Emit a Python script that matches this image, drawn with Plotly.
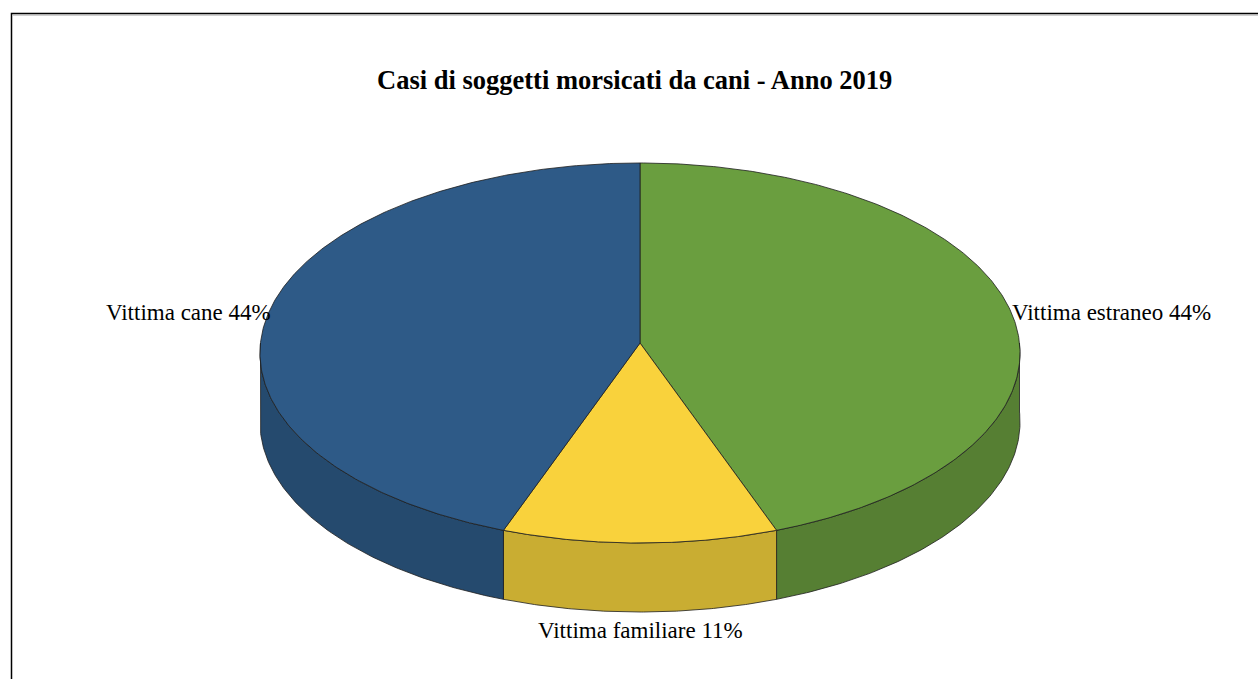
import numpy as np
import plotly.graph_objects as go

# ---- data ----
categories = ["Vittima estraneo", "Vittima familiare", "Vittima cane"]
values = [4, 1, 4]
top_colors = ["#6A9E3F", "#F9D23C", "#2E5A87"]
side_colors = ["#567F33", "#C9AD32", "#254A6E"]
title_text = "Casi di soggetti morsicati da cani - Anno 2019"

# ---- geometry of the 3D pie (pixel space) ----
W, H = 1258, 679
CX, CY, RX, RY, K, DEPTH = 640, 343, 379.5, 189.5, 0.0526, 69
FONT = "Times New Roman, Liberation Serif, serif"
EDGE = "#1e1e1e"


def proj(theta_deg, drop=0.0):
    t = np.radians(theta_deg)
    u = np.sin(t)
    v = -np.cos(t)
    s = 1.0 / (1.0 - K * v)
    return CX + RX * u * s, CY + RY * v * s + drop


total = float(sum(values))
angles = np.concatenate([[0.0], np.cumsum(values) / total * 360.0])

fig = go.Figure()

# side walls (front half only)
for i in range(len(values)):
    a0, a1 = max(angles[i], 90.0), min(angles[i + 1], 270.0)
    if a1 <= a0:
        continue
    th = np.linspace(a0, a1, 120)
    xt, yt = proj(th)
    xb, yb = proj(th, DEPTH)
    xs = np.concatenate([xt, xb[::-1], xt[:1]])
    ys = np.concatenate([yt, yb[::-1], yt[:1]])
    fig.add_trace(go.Scatter(x=xs, y=ys, fill="toself", fillcolor=side_colors[i],
                             mode="lines", line=dict(color=EDGE, width=0.8),
                             hoverinfo="skip", showlegend=False))

# top faces
for i in range(len(values)):
    th = np.linspace(angles[i], angles[i + 1], 300)
    xa, ya = proj(th)
    xs = np.concatenate([[CX], xa, [CX]])
    ys = np.concatenate([[CY], ya, [CY]])
    fig.add_trace(go.Scatter(x=xs, y=ys, fill="toself", fillcolor=top_colors[i],
                             mode="lines", line=dict(color=EDGE, width=0.8),
                             hoverinfo="skip", showlegend=False,
                             name=categories[i]))

# labels
LABEL_SIZE = 23
annotations = []
for i in range(len(values)):
    mid = (angles[i] + angles[i + 1]) / 2.0
    px, py = proj(mid)
    pct = round(values[i] / total * 100)
    txt = f"{categories[i]} {pct}%"
    if abs(np.sin(np.radians(mid))) < 0.5:
        annotations.append(dict(x=px, y=py + DEPTH + 4, text=txt, xanchor="center",
                                yanchor="top", showarrow=False,
                                font=dict(family=FONT, size=LABEL_SIZE, color="#000")))
    else:
        annotations.append(dict(x=px + (3 if px < CX else 0), y=py + 2, text=txt,
                                xanchor="right" if px < CX else "left",
                                yanchor="middle", showarrow=False,
                                font=dict(family=FONT, size=LABEL_SIZE, color="#000")))

annotations.append(dict(x=634, y=80, text=f"<b>{title_text}</b>", xanchor="center",
                        yanchor="middle", showarrow=False,
                        font=dict(family=FONT, size=26.5, color="#000")))

fig.update_layout(
    width=W, height=H, autosize=False,
    margin=dict(l=0, r=0, t=0, b=0),
    paper_bgcolor="white", plot_bgcolor="white",
    xaxis=dict(range=[0, W], visible=False, fixedrange=True),
    yaxis=dict(range=[H, 0], visible=False, fixedrange=True),
    annotations=annotations,
    shapes=[
        dict(type="rect", x0=11.5, y0=13.5, x1=W + 10, y1=H + 10,
             line=dict(color="#000", width=1.5), fillcolor="rgba(0,0,0,0)", layer="below"),
        dict(type="line", x0=13, y0=15, x1=W + 10, y1=15,
             line=dict(color="#a0a0a0", width=1), layer="below"),
    ],
)

fig.write_html("out.html")
